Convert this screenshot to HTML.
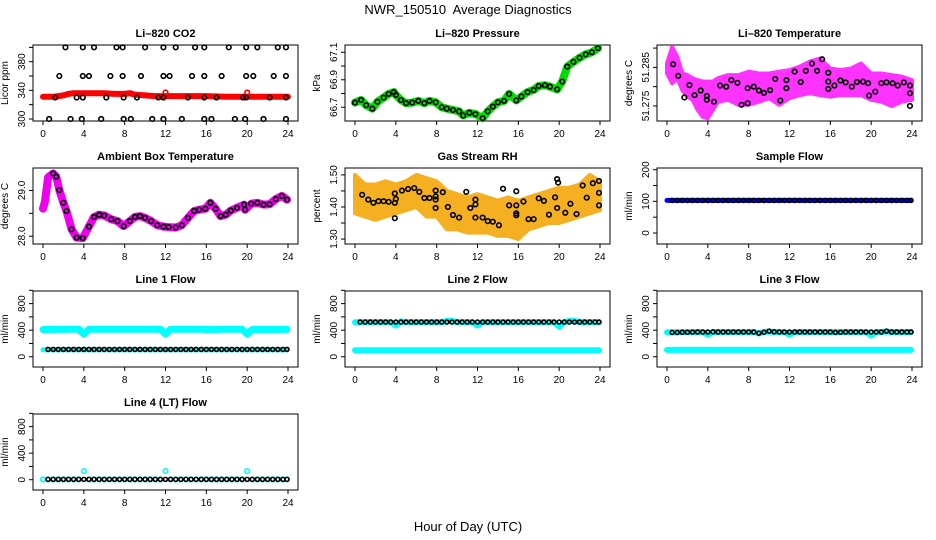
<!DOCTYPE html>
<html><head><meta charset="utf-8"><style>
html,body{margin:0;padding:0;background:#fff}
svg{display:block;font-family:"Liberation Sans",sans-serif}
</style></head><body>
<svg id="c" width="936" height="540" viewBox="0 0 936 540">
<text x="468" y="14" font-size="13" text-anchor="middle">NWR_150510&#160; Average Diagnostics</text>
<text x="468" y="531" font-size="13" text-anchor="middle">Hour of Day (UTC)</text>
</svg>
<script>
const xTicks=[0,4,8,12,16,20,24];
// CO2
const co2LineHours=[0,1,2,2.5,3,4,5,6,7,8,8.5,9,10,11,12,14,16,18,20,22,24];
const co2LineVals=[331,331,333,335,336,336,336,336,335,335,336,334,333,332,332,332,332,331,331,331,331];
const co2OutHours=[12,20];
const co2OutVals=[337,337];
const co2PtHours=[2.2,3.9,5,7.2,7.8,10,11.8,13,14.9,15.8,18.2,19.9,21,23,23.8, 1.6,3.9,4.5,6.6,7.8,9.6,11.8,12.4,14.6,15.8,17.5,19.9,20.6,22.6,23.8, 1.2,3.3,3.9,6.2,7.9,9.2,11.3,11.8,14.2,15.8,17,19.6,19.9,22.2,23.8, 0.6,2.7,3.8,5.7,7.9,8.6,10.7,11.8,13.6,15.8,16.5,18.8,19.8,21.6,23.8];
const co2PtVals=[400,400,400,400,400,400,400,400,400,400,400,400,400,400,400, 360,360,360,360,360,360,360,360,360,360,360,360,360,360,360, 330,330,330,330,330,330,330,330,330,330,330,330,330,330,330, 300,300,300,300,300,300,300,300,300,300,300,300,300,300,300];
// Pressure
const presHours=[0,0.6,1.1,1.7,2.2,2.8,3.3,3.8,4,4.5,5,5.6,6.2,6.8,7.3,7.9,8.5,9,9.6,10.2,10.6,11.2,11.8,12.5,13,13.5,14,14.6,15.1,15.8,16.3,16.9,17.5,18,18.6,19.1,19.8,20.3,20.8,21.4,22,22.6,23.2,23.8];
const presVals=[66.734,66.753,66.715,66.69,66.74,66.77,66.797,66.81,66.79,66.753,66.73,66.734,66.746,66.73,66.746,66.736,66.70,66.69,66.68,66.67,66.64,66.66,66.65,66.62,66.67,66.705,66.736,66.746,66.797,66.75,66.778,66.81,66.826,66.855,66.86,66.85,66.83,66.887,66.996,67.03,67.06,67.085,67.1,67.13];
// Li-820 temperature
const tempEnvHours=[0,0.5,1,1.5,2,2.5,3,3.5,4,4.5,5,6,7,8,9,10,11,12,13,14,15,16,17,18,19,20,21,22,23,24];
const tempEnvUpper=[51.2860,51.2903,51.2878,51.2834,51.2830,51.2822,51.2817,51.2813,51.2813,51.2813,51.2822,51.2830,51.2830,51.2839,51.2834,51.2834,51.2839,51.2843,51.2852,51.2865,51.2873,51.2847,51.2843,51.2847,51.2860,51.2834,51.2834,51.2830,51.2826,51.2817];
const tempEnvLower=[51.2834,51.2809,51.2822,51.2791,51.2774,51.2766,51.2740,51.2722,51.2718,51.2740,51.2761,51.2766,51.2753,51.2753,51.2761,51.2770,51.2753,51.2770,51.2778,51.2783,51.2778,51.2774,51.2778,51.2778,51.2778,51.2766,51.2761,51.2750,51.2761,51.2766];
const tempPtHours=[0.6,1.1,1.7,2.2,2.7,3.3,3.9,3.9,4.6,5.2,5.8,6.3,6.9,7.3,7.9,7.9,8.5,9,9.5,10.1,10.6,11.1,11.7,11.7,12.5,13.1,13.6,14.2,14.7,15.2,15.8,15.8,15.8,16.4,17,17.5,18.1,18.6,19.2,19.7,19.8,20.4,21,21.5,22.1,22.6,23.2,23.8,23.8,23.8];
const tempPtVals=[51.2858,51.2828,51.2772,51.2804,51.2778,51.2790,51.2766,51.2776,51.2761,51.2803,51.2800,51.2817,51.2810,51.2753,51.2757,51.2796,51.2800,51.2790,51.2784,51.2791,51.2820,51.2764,51.2817,51.2796,51.2839,51.2812,51.2841,51.2860,51.2841,51.2871,51.2836,51.2813,51.2794,51.2803,51.2816,51.2811,51.2800,51.2812,51.2813,51.2809,51.2777,51.2787,51.2809,51.2811,51.2809,51.2803,51.2811,51.2803,51.2783,51.2750];
// Ambient
const ambHours=[0,0.2,0.5,1,1.3,1.6,2,2.3,2.8,3.3,3.9,4.5,5,5.5,6,6.7,7.3,7.9,8.5,9,9.5,10,10.6,11.2,11.8,12.3,13,13.6,14.2,14.8,15.3,15.9,16.4,16.9,17.4,17.9,18.4,19,19.7,19.8,20.4,21,21.6,22.2,22.8,23.4,23.9];
const ambVals=[28.60,28.76,29.29,29.37,29.30,29.01,28.73,28.55,28.15,27.97,27.96,28.21,28.42,28.47,28.45,28.37,28.33,28.22,28.33,28.42,28.44,28.40,28.33,28.24,28.21,28.20,28.19,28.24,28.40,28.55,28.58,28.60,28.73,28.60,28.44,28.47,28.56,28.62,28.69,28.58,28.71,28.73,28.69,28.70,28.81,28.88,28.80];
// RH
const rhEnvHours=[0,1,2,3,4,5,6,7,8,9,10,11,12,13,14,15,16,17,18,19,20,21,22,23,24];
const rhEnvLower=[1.38,1.37,1.36,1.37,1.38,1.39,1.40,1.37,1.37,1.33,1.33,1.32,1.32,1.32,1.31,1.31,1.30,1.33,1.34,1.35,1.35,1.36,1.37,1.38,1.39];
const rhEnvUpper=[1.50,1.47,1.47,1.48,1.47,1.48,1.50,1.49,1.48,1.45,1.44,1.43,1.44,1.43,1.42,1.43,1.42,1.43,1.44,1.45,1.46,1.46,1.47,1.50,1.48];
const rhPtHours=[0.7,1.3,1.8,2.3,2.8,3.3,3.9,3.9,4,3.9,4.6,5.2,5.8,6.3,6.8,7.3,7.9,7.9,7.9,7.9,8.6,9.1,9.6,10.2,10.9,11.3,11.8,11.8,11.8,12.5,13,13.5,14.1,14.5,15.1,15.8,15.8,15.8,15.8,16.5,17,17.5,18,18.5,19,19.6,19.8,19.9,19.8,20.6,21.1,21.7,22.3,22.7,23.3,23.9,23.9,23.9];
const rhPtVals=[1.438,1.423,1.413,1.418,1.418,1.416,1.442,1.413,1.425,1.365,1.451,1.456,1.459,1.447,1.428,1.428,1.433,1.451,1.423,1.397,1.446,1.400,1.375,1.367,1.447,1.397,1.423,1.408,1.367,1.367,1.356,1.354,1.343,1.457,1.405,1.449,1.405,1.380,1.374,1.417,1.362,1.362,1.427,1.419,1.376,1.430,1.487,1.476,1.397,1.382,1.410,1.378,1.467,1.429,1.474,1.481,1.444,1.405];
// Flows (half-hourly)
const flowHours=[0,0.5,1,1.5,2,2.5,3,3.5,4,4.5,5,5.5,6,6.5,7,7.5,8,8.5,9,9.5,10,10.5,11,11.5,12,12.5,13,13.5,14,14.5,15,15.5,16,16.5,17,17.5,18,18.5,19,19.5,20,20.5,21,21.5,22,22.5,23,23.5,23.9];
const sampleFlowVals=[103,103,103,103,103,103,103,103,103,103,103,103,103,103,103,103,103,103,103,103,103,103,103,103,103,103,103,103,103,103,103,103,103,103,103,103,103,103,103,103,103,103,103,103,103,103,103,103,103];
const line1High=[410,410,412,412,412,415,415,415,340,415,415,415,415,415,415,415,415,415,415,415,415,415,415,415,340,415,415,415,415,415,415,415,410,410,410,415,415,415,415,415,340,410,410,410,410,410,410,412,412];
const line1Low=[105,105,105,105,105,105,105,105,105,105,105,105,105,105,105,105,105,105,105,105,105,105,105,105,105,105,105,105,105,105,105,105,105,105,105,105,105,105,105,105,105,105,105,105,105,105,105,105,105];
const line1Black=[110,110,110,110,110,110,110,110,110,110,110,110,110,110,110,110,110,110,110,110,110,110,110,110,110,110,110,110,110,110,110,110,110,110,110,110,110,110,110,110,110,110,110,110,110,110,110,110,110];
const line2High=[520,522,522,522,522,522,522,522,470,530,522,522,522,522,522,522,522,522,540,540,522,522,522,522,470,522,522,522,522,522,522,522,522,522,522,522,522,522,522,522,450,522,540,540,522,522,522,522,522];
const line2Low=[98,98,98,98,98,98,98,98,98,98,98,98,98,98,98,98,98,98,98,98,98,98,98,98,98,98,98,98,98,98,98,98,98,98,98,98,98,98,98,98,98,98,98,98,98,98,98,98,98];
const line2Black=[522,522,522,522,522,522,522,522,522,522,522,522,522,522,522,522,522,522,522,522,522,522,522,522,522,522,522,522,522,522,522,522,522,522,522,522,522,522,522,522,522,522,522,522,522,522,522,522,522];
const line3High=[370,370,370,372,372,372,372,372,330,372,372,372,372,372,372,372,372,372,350,372,380,372,372,372,330,372,372,372,372,372,372,372,372,372,372,372,372,372,372,372,320,372,372,380,372,372,372,372,372];
const line3Low=[102,102,102,102,102,102,102,102,102,102,102,102,102,102,102,102,102,102,102,102,102,102,102,102,102,102,102,102,102,102,102,102,102,102,102,102,102,102,102,102,102,102,102,102,102,102,102,102,102];
const line3Black=[372,365,365,368,368,370,372,372,372,375,372,372,372,372,372,372,372,372,355,368,385,375,372,372,372,372,372,372,372,372,372,372,372,365,368,372,372,372,372,372,372,372,372,385,372,372,372,372,372];
const line4Cyan=[5,5,5,5,5,5,5,5,130,5,5,5,5,5,5,5,5,5,5,5,5,5,5,5,130,5,5,5,5,5,5,5,5,5,5,5,5,5,5,5,130,5,5,5,5,5,5,5,5];
const line4Black=[5,5,5,5,5,5,5,5,5,5,5,5,5,5,5,5,5,5,5,5,5,5,5,5,5,5,5,5,5,5,5,5,5,5,5,5,5,5,5,5,5,5,5,5,5,5,5,5,5];

const svg=document.getElementById('c');
const NS='http://www.w3.org/2000/svg';
function mk(tag,attrs,parent){const e=document.createElementNS(NS,tag);for(const k in attrs)e.setAttribute(k,attrs[k]);(parent||svg).appendChild(e);return e;}

function panel(col,row,title,ylab,vTop,vBot,ticks,labels,name){
  const L=33+312*col,R=298+312*col,T=45+123*row,B=T+76;
  const g=mk('g',{});
  
  
  const xs=h=>L+10+h*245/24;
  const ys=v=>T+(vTop-v)/(vTop-vBot)*(B-T);
  const t=mk('text',{x:(L+R)/2,y:T-8,'font-size':11,'font-weight':'bold','text-anchor':'middle'},g);t.textContent=title;
  
  
  const yt=mk('text',{x:0,y:0,'font-size':10,'text-anchor':'middle',transform:`translate(${L-25},${(T+B)/2}) rotate(-90)`},g);yt.textContent=ylab;
  
  
  const box=mk('rect',{x:L,y:T,width:R-L,height:B-T,fill:'none',stroke:'#000','stroke-width':1},g);
  
  
  const yaxis=mk('g',{},g);
  
  
  ticks.forEach(v=>{const y=ys(v);mk('line',{x1:L-4,x2:L,y1:y,y2:y,stroke:'#000'},yaxis);});
  mk('line',{x1:L,x2:L,y1:ys(ticks[0]),y2:ys(ticks[ticks.length-1]),stroke:'#000'},yaxis);
  labels.forEach(s=>{const y=ys(parseFloat(s));const e=mk('text',{x:0,y:0,'font-size':10,'text-anchor':'middle',transform:`translate(${L-8},${y}) rotate(-90)`},yaxis);e.textContent=s;});
  const xaxis=mk('g',{},g);
  
  
  mk('line',{x1:xs(0),x2:xs(24),y1:B,y2:B,stroke:'#000'},xaxis);
  xTicks.forEach(h=>{mk('line',{x1:xs(h),x2:xs(h),y1:B,y2:B+4,stroke:'#000'},xaxis);const e=mk('text',{x:xs(h),y:B+16,'font-size':10,'text-anchor':'middle'},xaxis);e.textContent=h;});
  const data=mk('g',{},g);
  
  
  return {xs,ys,g:data};
}
function band(p,hours,vals,color,w,name){
  const d=hours.map((h,i)=>(i?'L':'M')+p.xs(h).toFixed(1)+' '+p.ys(vals[i]).toFixed(1)).join(' ');
  const e=mk('path',{d,fill:'none',stroke:color,'stroke-width':w,'stroke-linecap':'round','stroke-linejoin':'round'},p.g);
  
  
}
function pts(p,hours,vals,color,name,r){
  hours.forEach((h,i)=>{const c=mk('circle',{cx:p.xs(h),cy:p.ys(vals[i]),r:r||2.3,fill:'none',stroke:color,'stroke-width':1.6},p.g);
    
    });
}
function env(p,hours,lo,hi,color,name){
  let d=hours.map((h,i)=>(i?'L':'M')+p.xs(h).toFixed(1)+' '+p.ys(hi[i]).toFixed(1)).join(' ');
  for(let i=hours.length-1;i>=0;i--)d+=' L'+p.xs(hours[i]).toFixed(1)+' '+p.ys(lo[i]).toFixed(1);
  const e=mk('path',{d:d+' Z',fill:color,stroke:color,'stroke-width':4,'stroke-linejoin':'round'},p.g);
  
  
}
const flowTicks=[0,200,400,600,800,1000],flowLabels=['0','400','800'];

let p=panel(0,0,'Li–820 CO2','Licor ppm',403.3,297.2,[300,320,340,360,380,400],['300','340','380'],'co2');
band(p,co2LineHours,co2LineVals,'#ff0000',6,'co2-red-series');
pts(p,co2OutHours,co2OutVals,'#ff0000','co2-red-outlier');
pts(p,co2PtHours,co2PtVals,'#000','co2-black-point');

p=panel(1,0,'Li–820 Pressure','kPa',67.153,66.600,[66.7,66.8,66.9,67.0,67.1],['66.7','66.9','67.1'],'pressure');
band(p,presHours,presVals,'#00dd00',8,'pressure-green-series');
pts(p,presHours,presVals,'#000','pressure-black-point');

p=panel(2,0,'Li–820 Temperature','degrees C',51.2908,51.2711,[51.275,51.280,51.285,51.290],['51.275','51.285'],'temperature');
env(p,tempEnvHours,tempEnvLower,tempEnvUpper,'#ff33ff','temperature-magenta-cloud');
pts(p,tempPtHours,tempPtVals,'#000','temperature-black-point');

p=panel(0,1,'Ambient Box Temperature','degrees C',29.49,27.83,[28,28.5,29],['28.0','29.0'],'ambient');
band(p,ambHours,ambVals,'#ee00ee',8,'ambient-magenta-series');
pts(p,ambHours.slice(3),ambVals.slice(3),'#000','ambient-black-point');

p=panel(1,1,'Gas Stream RH','percent',1.5215,1.2846,[1.30,1.35,1.40,1.45,1.50],['1.30','1.40','1.50'],'rh');
env(p,rhEnvHours,rhEnvLower,rhEnvUpper,'#f4b020','rh-orange-cloud');
pts(p,rhPtHours,rhPtVals,'#000','rh-black-point');

p=panel(2,1,'Sample Flow','ml/min',205.4,-34.7,[0,50,100,150,200],['0','100','200'],'sample-flow');
band(p,flowHours,sampleFlowVals,'#0000ff',5,'sample-flow-blue-series');
pts(p,flowHours.slice(1),sampleFlowVals.slice(1),'#000','sample-flow-black-point',2);

p=panel(0,2,'Line 1 Flow','ml/min',990,-155,flowTicks,flowLabels,'line1');
band(p,flowHours,line1High,'#00ffff',7,'line1-cyan-high');
band(p,flowHours,line1Low,'#00ffff',5,'line1-cyan-low');
pts(p,flowHours.slice(1),line1Black.slice(1),'#000','line1-black-point',2);

p=panel(1,2,'Line 2 Flow','ml/min',990,-155,flowTicks,flowLabels,'line2');
band(p,flowHours,line2High,'#00ffff',6,'line2-cyan-high');
band(p,flowHours,line2Low,'#00ffff',6,'line2-cyan-low');
pts(p,flowHours.slice(1),line2Black.slice(1),'#000','line2-black-point',2);

p=panel(2,2,'Line 3 Flow','ml/min',990,-155,flowTicks,flowLabels,'line3');
band(p,flowHours,line3High,'#00ffff',6,'line3-cyan-high');
band(p,flowHours,line3Low,'#00ffff',6,'line3-cyan-low');
pts(p,flowHours.slice(1),line3Black.slice(1),'#000','line3-black-point',2);

p=panel(0,3,'Line 4 (LT) Flow','ml/min',990,-155,flowTicks,flowLabels,'line4');
pts(p,flowHours,line4Cyan,'#00ffff','line4-cyan-point',2.3);
pts(p,flowHours.slice(1),line4Black.slice(1),'#000','line4-black-point',2);
</script>
</body></html>
